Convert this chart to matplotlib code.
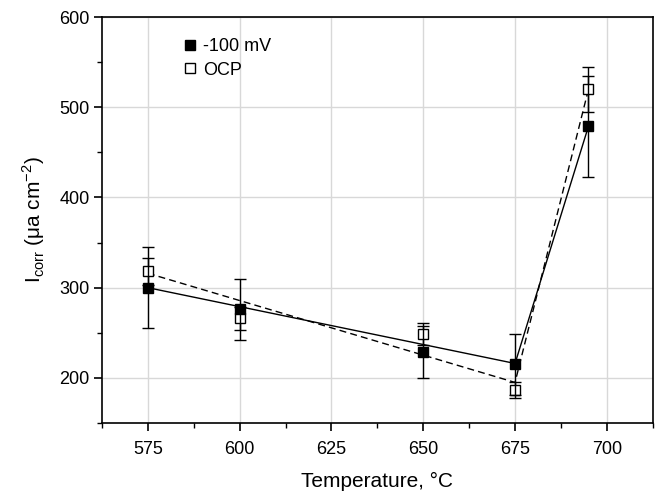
import matplotlib
matplotlib.use("Agg")
import matplotlib.pyplot as plt
from matplotlib.lines import Line2D
from matplotlib.ticker import MultipleLocator

plt.rcParams['font.family'] = ['Liberation Sans', 'DejaVu Sans']

# data
temps = [575, 600, 650, 675, 695]
i_100mv = [300, 276, 229, 215, 479]
err_100mv = [45, 34, 29, 34, 56]
i_ocp = [318, 266, 249, 187, 520]
err_ocp = [15, 13, 12, 9, 25]

# trend lines drawn in the figure (straight fit 575-675, then up to 695)
trend_t = [575, 675, 695]
trend_100mv = [300, 216, 479]
trend_ocp = [316, 195, 520]

fig = plt.figure(figsize=(6.6, 4.92), dpi=100)
ax = fig.add_axes([0.1545, 0.1402, 0.8345, 0.8252])

ax.plot(trend_t, trend_ocp, color='black', lw=1.0, ls=(0, (5, 3)), zorder=2)
ax.plot(trend_t, trend_100mv, color='black', lw=1.0, zorder=2)

ax.errorbar(temps, i_ocp, yerr=err_ocp, fmt='s', color='black', mfc='white',
            mec='black', ms=7, elinewidth=1.0, capsize=4, capthick=1.0, zorder=3)
ax.errorbar(temps, i_100mv, yerr=err_100mv, fmt='s', color='black', mfc='black',
            mec='black', ms=7, elinewidth=1.0, capsize=4, capthick=1.0, zorder=4)

ax.set_xlim(562.5, 712.5)
ax.set_ylim(150, 600)
ax.set_xticks([575, 600, 625, 650, 675, 700])
ax.set_yticks([200, 300, 400, 500, 600])
ax.xaxis.set_minor_locator(MultipleLocator(12.5))
ax.yaxis.set_minor_locator(MultipleLocator(50))

ax.grid(True, which='major', color='#d8d8d8', lw=1.0, zorder=0)
ax.set_axisbelow(True)
for s in ax.spines.values():
    s.set_linewidth(1.2)
ax.tick_params(which='major', direction='out', length=6, width=1.2, labelsize=13)
ax.tick_params(axis='x', which='major', pad=7)
ax.tick_params(axis='y', which='major', pad=3)
ax.tick_params(which='minor', direction='out', length=3.5, width=1.0)

ax.set_xlabel('Temperature, \u00b0C', fontsize=15, labelpad=10)
ax.set_ylabel(r'I$_{\mathregular{corr}}$ ($\mathregular{\mu}$a cm$^{\mathregular{-2}}$)', fontsize=15, labelpad=9)

proxies = [Line2D([], [], ls='none', marker='s', ms=7, mfc='black', mec='black'),
           Line2D([], [], ls='none', marker='s', ms=7, mfc='white', mec='black')]
ax.legend(proxies, ['-100 mV', 'OCP'], loc='upper left', bbox_to_anchor=(0.135, 0.965),
          frameon=False, fontsize=13, handlelength=0.7, handletextpad=0.4,
          labelspacing=0.35, numpoints=1, borderaxespad=0)

fig.savefig('out.png', dpi=100)
